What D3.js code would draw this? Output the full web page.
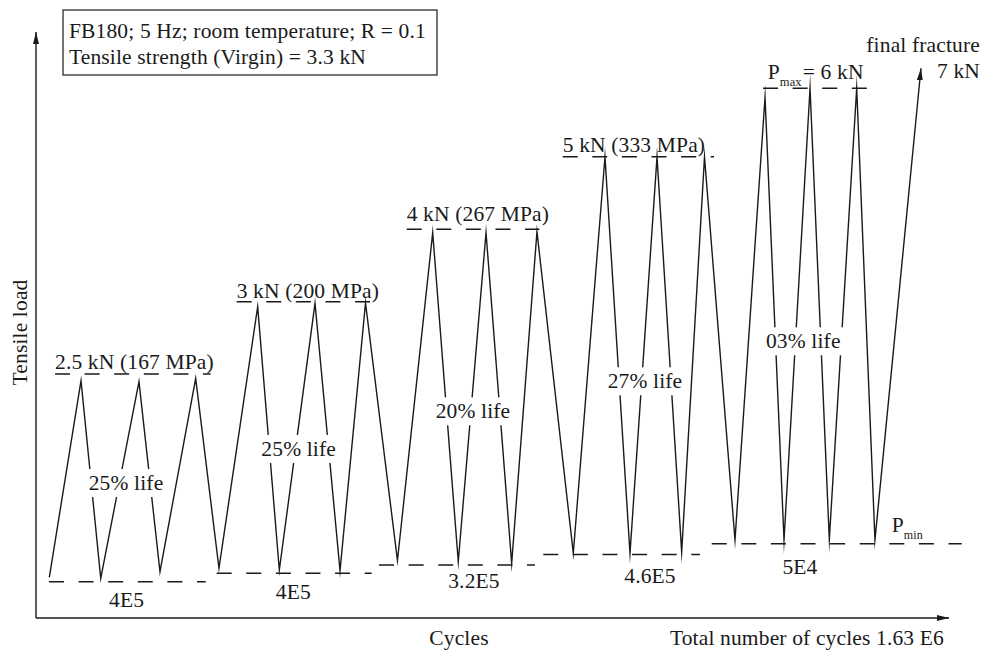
<!DOCTYPE html>
<html><head><meta charset="utf-8">
<script src="https://cdn.jsdelivr.net/npm/d3@7"></script>
<style>
html,body{margin:0;padding:0;background:#fff;}
svg{display:block;}
</style>
</head><body>
<svg id="chart" width="983" height="651"></svg>
<script>
// ---- Data (schematic units: x = cycle progress 0..100, y = relative load 0..100) ----
const loadX = [1.46, 4.93, 7.09, 11.28, 13.58, 17.49, 20.04, 24.28, 26.65, 30.56, 33.30, 36.09,
               39.59, 43.45, 46.25, 49.29, 52.10, 54.87, 58.85, 62.32, 65.06, 68.02, 70.72, 73.22,
               76.56, 79.85, 81.93, 84.78, 86.89, 89.89, 91.89, 96.93];
const loadY = [6.95, 40.49, 6.77, 40.32, 7.90, 40.90, 8.48, 53.12, 8.19, 53.70, 8.07, 53.75,
               9.81, 65.75, 9.61, 65.75, 9.33, 65.92, 11.04, 78.67, 11.04, 78.67, 11.26, 78.67,
               13.31, 88.86, 13.31, 90.39, 13.40, 90.39, 13.31, 93.81];

const blockLabels = ["2.5 kN (167 MPa)", "3 kN (200 MPa)", "4 kN (267 MPa)", "5 kN (333 MPa)"];
const lifeLabels  = ["25% life", "25% life", "20% life", "27% life", "03% life"];
const cycleLabels = ["4E5", "4E5", "3.2E5", "4.6E5", "5E4"];

// P_min reference levels (dashed) per block
const minLevel = [6.19, 7.63, 9.04, 10.84, 12.68];
const minFrom  = [1.42, 19.79, 37.57, 55.56, 74.01];
const minTo    = [18.59, 36.77, 54.65, 72.73, 101.39];
// P_max reference levels (dashed) per block
const maxLevel = [41.64, 53.98, 66.33, 78.72, 90.39];
const maxFrom  = [2.08, 21.98, 40.60, 57.69, 79.63];
const maxTo    = [19.13, 36.58, 55.13, 74.26, 91.02];

// annotation anchors (schematic units)
const blockLabelX = [2.08, 21.98, 40.60, 57.69];
const blockLabelY = [42.44, 54.69, 67.80, 79.52];
const lifeX  = [9.86, 28.77, 47.86, 66.70, 84.04];
const lifeY  = [21.84, 27.65, 34.08, 39.20, 46.02];
const cycX   = [9.93, 28.18, 47.97, 67.25, 83.68];
const cycY   = [1.93, 3.19, 5.07, 6.02, 7.51];

// ---- Drawing ----
const FONT = "'Liberation Serif', 'Times New Roman', Times, 'DejaVu Serif', serif";
const svg = d3.select("#chart").attr("font-family", FONT);
const x = d3.scaleLinear().domain([0, 100]).range([36, 949]);
const y = d3.scaleLinear().domain([0, 100]).range([618, 32]);
const ink = "#1a1a1a";
const FS = 21.5;

const defs = svg.append("defs");
defs.append("marker").attr("id", "arrow")
  .attr("markerUnits", "userSpaceOnUse")
  .attr("markerWidth", 13).attr("markerHeight", 7)
  .attr("refX", 12).attr("refY", 3)
  .attr("orient", "auto")
  .append("path").attr("d", "M0,0 L12,3 L0,6 Z").attr("fill", ink);

function label(sel) {
  return sel.attr("font-size", FS).attr("fill", ink)
    .attr("letter-spacing", 0.15).attr("font-family", FONT);
}

// axes
svg.append("line").attr("x1", x(0)).attr("y1", y(0)).attr("x2", x(0)).attr("y2", y(100))
  .attr("stroke", ink).attr("stroke-width", 1.4).attr("marker-end", "url(#arrow)");
svg.append("line").attr("x1", x(0)).attr("y1", y(0)).attr("x2", x(100)).attr("y2", y(0))
  .attr("stroke", ink).attr("stroke-width", 1.4).attr("marker-end", "url(#arrow)");

// dashed reference levels
const dashes = "15 14.6";
svg.append("g").selectAll("line").data(minLevel).join("line")
  .attr("x1", (d, i) => x(minFrom[i])).attr("x2", (d, i) => x(minTo[i]))
  .attr("y1", d => y(d)).attr("y2", d => y(d))
  .attr("stroke", ink).attr("stroke-width", 1.4).attr("stroke-dasharray", dashes);
svg.append("g").selectAll("line").data(maxLevel).join("line")
  .attr("x1", (d, i) => x(maxFrom[i])).attr("x2", (d, i) => x(maxTo[i]))
  .attr("y1", d => y(d)).attr("y2", d => y(d))
  .attr("stroke", ink).attr("stroke-width", 1.4).attr("stroke-dasharray", dashes);

// load history zig-zag
const pts = loadX.map((v, i) => [v, loadY[i]]);
svg.append("path").datum(pts)
  .attr("d", d3.line().x(d => x(d[0])).y(d => y(d[1])))
  .attr("fill", "none").attr("stroke", ink).attr("stroke-width", 1.4)
  .attr("stroke-linejoin", "miter").attr("stroke-miterlimit", 20)
  .attr("marker-end", "url(#arrow)");

// block max labels
svg.append("g").selectAll("text").data(blockLabels).join("text")
  .attr("x", (d, i) => x(blockLabelX[i])).attr("y", (d, i) => y(blockLabelY[i]))
  .call(label).text(d => d);

// P_max label
const pmax = svg.append("text").attr("x", x(80.14)).attr("y", y(91.98)).call(label);
pmax.append("tspan").text("P");
pmax.append("tspan").attr("font-size", 12.5).attr("dy", 7).text("max");
pmax.append("tspan").attr("dy", -7).attr("dx", 1).text("= 6 kN");

// P_min label
const pmin = svg.append("text").attr("x", x(93.72)).attr("y", y(14.73)).call(label);
pmin.append("tspan").text("P");
pmin.append("tspan").attr("font-size", 12).attr("dy", 7).text("min");

// life labels with white background
const lifeG = svg.append("g").selectAll("g").data(lifeLabels).join("g");
lifeG.each(function(d, i) {
  const g = d3.select(this);
  const r = g.append("rect").attr("fill", "#fff");
  const t = g.append("text").attr("x", x(lifeX[i])).attr("y", y(lifeY[i]))
    .attr("text-anchor", "middle").call(label).text(d);
  const b = t.node().getBBox();
  r.attr("x", b.x - 3).attr("y", b.y - 2).attr("width", b.width + 6).attr("height", b.height + 4);
});

// cycle count labels
svg.append("g").selectAll("text").data(cycleLabels).join("text")
  .attr("x", (d, i) => x(cycX[i])).attr("y", (d, i) => y(cycY[i]))
  .attr("text-anchor", "middle").call(label).text(d => d);

// final fracture
svg.append("text").attr("x", x(103.4)).attr("y", y(96.64)).attr("text-anchor", "end")
  .call(label).text("final fracture");
svg.append("text").attr("x", x(103.4)).attr("y", y(92.1)).attr("text-anchor", "end")
  .call(label).text("7 kN");

// axis titles
svg.append("text").attr("x", x(46.33)).attr("y", y(-4.69)).attr("text-anchor", "middle")
  .call(label).text("Cycles");
svg.append("text").attr("x", x(99.45)).attr("y", y(-4.69)).attr("text-anchor", "end")
  .call(label).text("Total number of cycles 1.63 E6");
svg.append("text").attr("transform", `translate(${x(-1.04)},${y(48.72)}) rotate(-90)`)
  .attr("text-anchor", "middle").call(label).text("Tensile load");

// info box
svg.append("rect").attr("x", x(2.96)).attr("y", y(103.75))
  .attr("width", x(43.92) - x(2.96)).attr("height", y(92.66) - y(103.75))
  .attr("fill", "#fff").attr("stroke", ink).attr("stroke-width", 1.2);
svg.append("text").attr("x", x(3.61)).attr("y", y(98.98)).call(label)
  .text("FB180; 5 Hz; room temperature; R = 0.1");
svg.append("text").attr("x", x(3.61)).attr("y", y(94.54)).call(label)
  .text("Tensile strength (Virgin) = 3.3 kN");
</script>
</body></html>
